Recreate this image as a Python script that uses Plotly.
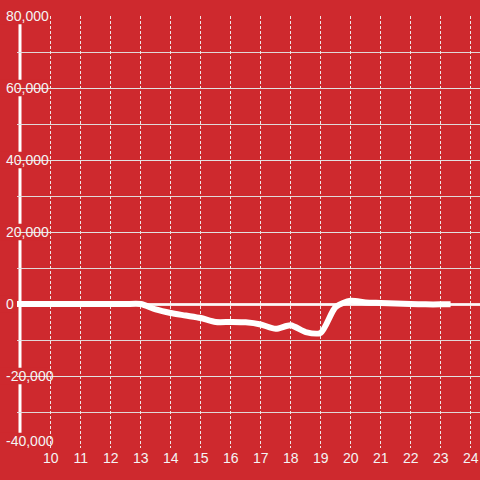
import plotly.graph_objects as go

# ---- data ----
hours = [8.5, 9.0, 9.5, 10.0, 10.5, 11.0, 11.5, 12.0, 12.5, 13.0, 13.5, 14.0, 14.5,
         15.0, 15.5, 16.0, 16.5, 17.0, 17.5, 18.0, 18.5, 19.0, 19.5, 20.0, 20.5,
         21.0, 21.5, 22.0, 22.5, 23.0, 23.33]
values = [0, 0, 0, 0, 0, 0, 0, 0, 0, 0, -1500, -2500, -3200,
          -3900, -5000, -5000, -5100, -5700, -6900, -5900, -7800, -8000, -800, 900, 400,
          300, 150, 0, -100, -100, -100]

x_ticks = list(range(10, 25))
x_labels = [str(v) for v in x_ticks]
y_ticks = [-40000, -20000, 0, 20000, 40000, 60000, 80000]
y_labels = ["-40,000", "-20,000", "0", "20,000", "40,000", "60,000", "80,000"]

# ---- style ----
RED = "#CE292E"
GRID_H = "rgba(225,225,225,0.95)"
GRID_V = "rgba(240,240,240,0.95)"
LABEL = "#F4F4F4"
FONT = "Liberation Sans, Arial, sans-serif"

W, H = 480, 480
ML, MR, MT, MB = 17, 0, 16, 32
plot_w = W - ML - MR
plot_h = H - MT - MB
y_min, y_max = -40000, 80000
px_per_unit = plot_h / (y_max - y_min)
BOTTOM_SHIFT = 7  # bottom label sits a little above its line (px)

fig = go.Figure()
fig.add_trace(go.Scatter(
    x=hours, y=values, mode="lines",
    line=dict(color="white", width=6, shape="spline", smoothing=0.7),
    hoverinfo="skip", showlegend=False,
))
# empty trace so the overlay axis (bottom label) exists
fig.add_trace(go.Scatter(x=[], y=[], yaxis="y2", showlegend=False, hoverinfo="skip"))

# axis bar + label backgrounds (drawn between grid and labels)
shapes = []
bar_px = 20
shapes.append(dict(type="line", layer="between", xref="paper", yref="paper",
                   x0=(bar_px - ML) / plot_w, x1=(bar_px - ML) / plot_w, y0=0, y1=1,
                   line=dict(color="white", width=3)))
char_w = {",": 3.9, "-": 4.7}
for v, lab in zip(y_ticks, y_labels):
    wpx = sum(char_w.get(c, 7.8) for c in lab)
    right_px = 6 + wpx + 3
    centre = v + (BOTTOM_SHIFT / px_per_unit if v == y_min else 0)
    shapes.append(dict(type="rect", layer="between", xref="paper", yref="y",
                       x0=-0.05, x1=(right_px - ML) / plot_w,
                       y0=centre - 2300, y1=centre + 2300,
                       fillcolor=RED, line=dict(width=0)))

main_text = ["" if v == y_min else t for v, t in zip(y_ticks, y_labels)]
bottom_vals = [v for v in y_ticks if v == y_min]
bottom_text = [t for v, t in zip(y_ticks, y_labels) if v == y_min]

label_common = dict(
    ticks="", showline=False,
    ticklabelposition="inside", ticklabelstandoff=-14, ticklabeloverflow="allow",
    tickfont=dict(family=FONT, size=14, color=LABEL),
    layer="below traces", fixedrange=True,
)

fig.update_layout(
    width=W, height=H,
    margin=dict(l=ML, r=MR, t=MT, b=MB),
    paper_bgcolor=RED, plot_bgcolor=RED,
    showlegend=False,
    shapes=shapes,
    xaxis=dict(
        range=[8.877, 24.31], tickmode="array", tickvals=x_ticks, ticktext=x_labels,
        showgrid=True, gridcolor=GRID_V, gridwidth=1, griddash="3px,2px",
        zeroline=False, showline=False, ticks="",
        tickfont=dict(family=FONT, size=14, color=LABEL),
        fixedrange=True,
    ),
    yaxis=dict(
        range=[y_min, y_max], tickmode="array", tickvals=y_ticks, ticktext=main_text,
        showgrid=True, gridcolor=GRID_H, gridwidth=1,
        minor=dict(dtick=10000, tick0=0, showgrid=True, gridcolor=GRID_H, gridwidth=1),
        zeroline=True, zerolinecolor="rgba(255,255,255,0.85)", zerolinewidth=3,
        **label_common,
    ),
    yaxis2=dict(
        range=[y_min, y_max], overlaying="y", side="left", anchor="x",
        tickmode="array", tickvals=bottom_vals, ticktext=bottom_text,
        showgrid=False, zeroline=False, ticklabelshift=-BOTTOM_SHIFT,
        **label_common,
    ),
)

fig.write_html(
    "out.html",
    config={"displayModeBar": False},
    post_script="document.body.style.margin='0';document.body.style.overflow='hidden';"
                "document.body.style.background='" + RED + "';",
)
